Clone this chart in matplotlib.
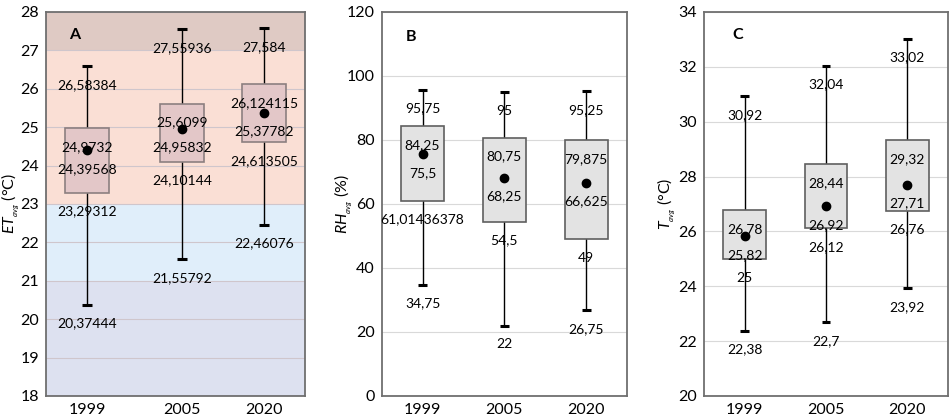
import matplotlib.pyplot as plt
import numpy as np

plt.rcParams['font.family'] = ['Lato', 'DejaVu Sans']
plt.rcParams['mathtext.fontset'] = 'custom'
plt.rcParams['mathtext.it'] = 'Lato:italic'
plt.rcParams['mathtext.rm'] = 'Lato'

years = ['1999', '2005', '2020']

# panel A: ET_avg
et_max = [26.58384, 27.55936, 27.584]
et_q3 = [24.9732, 25.6099, 26.124115]
et_mean = [24.39568, 24.95832, 25.37782]
et_q1 = [23.29312, 24.10144, 24.613505]
et_min = [20.37444, 21.55792, 22.46076]
et_lbl = [['26,58384', '24,9732', '24,39568', '23,29312', '20,37444'],
          ['27,55936', '25,6099', '24,95832', '24,10144', '21,55792'],
          ['27,584', '26,124115', '25,37782', '24,613505', '22,46076']]

# panel B: RH_avg
rh_max = [95.75, 95, 95.25]
rh_q3 = [84.25, 80.75, 79.875]
rh_mean = [75.5, 68.25, 66.625]
rh_q1 = [61.01436378, 54.5, 49]
rh_min = [34.75, 22, 26.75]
rh_lbl = [['95,75', '84,25', '75,5', '61,01436378', '34,75'],
          ['95', '80,75', '68,25', '54,5', '22'],
          ['95,25', '79,875', '66,625', '49', '26,75']]

# panel C: T_avg
t_max = [30.92, 32.04, 33.02]
t_q3 = [26.78, 28.44, 29.32]
t_mean = [25.82, 26.92, 27.71]
t_q1 = [25, 26.12, 26.76]
t_min = [22.38, 22.7, 23.92]
t_lbl = [['30,92', '26,78', '25,82', '25', '22,38'],
         ['32,04', '28,44', '26,92', '26,12', '22,7'],
         ['33,02', '29,32', '27,71', '26,76', '23,92']]

# ET comfort bands (lower, upper, colour)
bands = [(18, 21, '#dde1f0'), (21, 23, '#e0eefa'), (23, 27, '#fadfd5'), (27, 28, '#dfcac4')]

fig = plt.figure(figsize=(9.5, 4.15), dpi=100)
axA = fig.add_axes([0.0484, 0.0458, 0.2726, 0.9253])
axB = fig.add_axes([0.4018, 0.0458, 0.2582, 0.9253])
axC = fig.add_axes([0.7411, 0.0458, 0.2568, 0.9253])


def draw_panel(ax, pos, width, vmax, q3, mean, q1, vmin, labels, box_fc, box_ec):
    ax.vlines(pos, vmin, vmax, color='black', lw=1, zorder=2)
    ax.bar(pos, np.array(q3) - np.array(q1), bottom=q1, width=width,
           color=box_fc, edgecolor=box_ec, lw=1.2, zorder=3)
    ax.hlines(vmax, np.array(pos) - 0.055, np.array(pos) + 0.055, color='black', lw=2.2, zorder=4)
    ax.hlines(vmin, np.array(pos) - 0.055, np.array(pos) + 0.055, color='black', lw=2.2, zorder=4)
    ax.plot(pos, mean, 'o', color='black', ms=6, zorder=5)
    for i, x in enumerate(pos):
        vals = [vmax[i], q3[i], mean[i], q1[i], vmin[i]]
        for v, t in zip(vals, labels[i]):
            ax.annotate(t, (x, v), xytext=(0, -13.5), textcoords='offset points',
                        ha='center', va='center', fontsize=10, zorder=6)
    ax.set_xlim(0, 3)
    ax.set_xticks(pos)
    ax.set_xticklabels(years, fontsize=11.5)
    ax.tick_params(length=0, labelsize=11.5, pad=5)
    ax.grid(axis='y', color='#d9d9d9', lw=0.8, zorder=1)
    ax.set_axisbelow(True)
    for s in ax.spines.values():
        s.set_color('#6f6f6f')
        s.set_linewidth(1.3)


# panel A
for lo, hi, c in bands:
    axA.axhspan(lo, hi, color=c, lw=0, zorder=0)
posA = [0.475, 1.575, 2.525]
draw_panel(axA, posA, 0.5, et_max, et_q3, et_mean, et_q1, et_min, et_lbl, '#e3c7c8', '#8c7f80')
axA.set_ylim(18, 28)
axA.set_yticks(np.arange(18, 29, 1))
axA.grid(axis='y', color='#cfc6cc', lw=0.8, zorder=1)
axA.set_ylabel(r'$ET_{_{avg}}$ (°C)', fontsize=11.5)
axA.yaxis.set_label_coords(-0.095, 0.5)
axA.text(0.09, 0.94, 'A', transform=axA.transAxes, fontsize=11.5, fontweight='bold',
         ha='left', va='center')

# panel B
posB = [0.5, 1.5, 2.5]
draw_panel(axB, posB, 0.527, rh_max, rh_q3, rh_mean, rh_q1, rh_min, rh_lbl, '#e3e3e3', '#5f5f5f')
axB.set_ylim(0, 120)
axB.set_yticks(np.arange(0, 121, 20))
axB.set_ylabel(r'$RH_{_{avg}}$ (%)', fontsize=11.5)
axB.yaxis.set_label_coords(-0.115, 0.5)
axB.text(0.10, 0.935, 'B', transform=axB.transAxes, fontsize=11.5, fontweight='bold',
         ha='left', va='center')

# panel C
posC = [0.5, 1.5, 2.5]
draw_panel(axC, posC, 0.527, t_max, t_q3, t_mean, t_q1, t_min, t_lbl, '#e3e3e3', '#5f5f5f')
axC.set_ylim(20, 34)
axC.set_yticks(np.arange(20, 35, 2))
axC.set_ylabel(r'$T_{_{avg}}$ (°C)', fontsize=11.5)
axC.yaxis.set_label_coords(-0.11, 0.5)
axC.text(0.115, 0.94, 'C', transform=axC.transAxes, fontsize=11.5, fontweight='bold',
         ha='left', va='center')

fig.savefig('out.png', dpi=100)
